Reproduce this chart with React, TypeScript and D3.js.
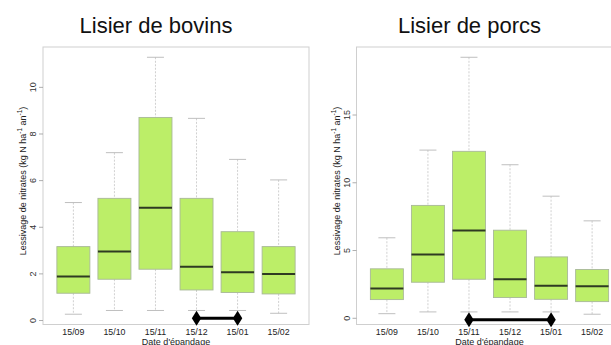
import React from "react";
import * as d3 from "d3";

const categories = ["15/09", "15/10", "15/11", "15/12", "15/01", "15/02"];

// bovins: [lowerWhisker, q1, median, q3, upperWhisker]
const bovinsLow = [0.27, 0.43, 0.43, 0.43, 0.43, 0.31];
const bovinsQ1 = [1.17, 1.77, 2.2, 1.31, 1.2, 1.14];
const bovinsMed = [1.89, 2.96, 4.84, 2.31, 2.07, 1.99];
const bovinsQ3 = [3.17, 5.24, 8.71, 5.24, 3.81, 3.17];
const bovinsHigh = [5.06, 7.2, 11.29, 8.67, 6.91, 6.03];

const porcsLow = [0.34, 0.47, 0.47, 0.47, 0.47, 0.3];
const porcsQ1 = [1.38, 2.66, 2.88, 1.53, 1.4, 1.23];
const porcsMed = [2.19, 4.7, 6.48, 2.88, 2.41, 2.36];
const porcsQ3 = [3.65, 8.33, 12.32, 6.5, 4.53, 3.6];
const porcsHigh = [5.94, 12.41, 19.26, 11.33, 9.01, 7.19];

const bovinsTicks = [0, 2, 4, 6, 8, 10];
const porcsTicks = [0, 5, 10, 15];

const bovinsPeriod = ["15/12", "15/01"];
const porcsPeriod = ["15/11", "15/01"];
const bovinsPeriodY = 0.1;
const porcsPeriodY = -0.1;

const titles = ["Lisier de bovins", "Lisier de porcs"];
const xTitle = "Date d'épandage";

const FONT = "Liberation Sans, Arial, sans-serif";

type PanelProps = {
  x0: number;
  title: string;
  titleX: number;
  low: number[];
  q1: number[];
  med: number[];
  q3: number[];
  high: number[];
  ticks: number[];
  period: string[];
  periodY: number;
};

function Panel(p: PanelProps) {
  const width = 266;
  const top = 47;
  const bottom = 324.5;
  const ymin = d3.min(p.low)!;
  const ymax = d3.max(p.high)!;
  const pad = (ymax - ymin) * 0.04;
  const x = d3.scaleLinear().domain([0.26, 6.74]).range([p.x0, p.x0 + width]);
  const y = d3.scaleLinear().domain([ymin - pad, ymax + pad]).range([bottom, top]);
  const bw = 33;
  const cw = 17;
  const pos = (c: string) => x(categories.indexOf(c) + 1);
  const d1 = pos(p.period[0]);
  const d2 = pos(p.period[1]);
  const dy = y(p.periodY);
  const diamond = (cx: number) =>
    `M${cx},${dy - 7.5} L${cx + 4.7},${dy} L${cx},${dy + 7.5} L${cx - 4.7},${dy} Z`;
  const yTitleX = p.x0 - 20;
  const yTitleY = 181;
  return (
    <g>
      <text x={p.titleX} y={33} textAnchor="middle" fontSize={22} fontFamily={FONT} fill="#111">
        {p.title}
      </text>
      <rect x={p.x0} y={top} width={width} height={bottom - top} fill="none" stroke="#cfcfcf" strokeWidth={1} />
      {p.ticks.map((t) => (
        <g key={t}>
          <line x1={p.x0 - 4} x2={p.x0} y1={y(t)} y2={y(t)} stroke="#999" strokeWidth={0.8} />
          <text
            transform={`translate(${p.x0 - 7},${y(t)}) rotate(-90)`}
            textAnchor="middle"
            fontSize={9}
            fontFamily={FONT}
            fill="#333"
          >
            {t}
          </text>
        </g>
      ))}
      {categories.map((c, i) => {
        const cx = x(i + 1);
        return (
          <g key={c}>
            <line x1={cx} x2={cx} y1={y(p.high[i])} y2={y(p.q3[i])} stroke="#c4c4c4" strokeWidth={0.8} strokeDasharray="2,1.5" />
            <line x1={cx} x2={cx} y1={y(p.q1[i])} y2={y(p.low[i])} stroke="#c4c4c4" strokeWidth={0.8} strokeDasharray="2,1.5" />
            <line x1={cx - cw / 2} x2={cx + cw / 2} y1={y(p.high[i])} y2={y(p.high[i])} stroke="#b8b8b8" strokeWidth={0.9} />
            <line x1={cx - cw / 2} x2={cx + cw / 2} y1={y(p.low[i])} y2={y(p.low[i])} stroke="#b8b8b8" strokeWidth={0.9} />
            <rect
              x={cx - bw / 2}
              y={y(p.q3[i])}
              width={bw}
              height={y(p.q1[i]) - y(p.q3[i])}
              fill="#BCEE68"
              stroke="#a8b898"
              strokeWidth={0.9}
            />
            <line x1={cx - bw / 2} x2={cx + bw / 2} y1={y(p.med[i])} y2={y(p.med[i])} stroke="#2e3a22" strokeWidth={2} />
            <text x={cx} y={335} textAnchor="middle" fontSize={8.8} fontFamily={FONT} fill="#222">
              {c}
            </text>
          </g>
        );
      })}
      <line x1={d1} x2={d2} y1={dy} y2={dy} stroke="#000" strokeWidth={3} />
      <path d={diamond(d1)} fill="#000" />
      <path d={diamond(d2)} fill="#000" />
      <text x={p.x0 + width / 2} y={344.5} textAnchor="middle" fontSize={9} fontFamily={FONT} fill="#222">
        {xTitle}
      </text>
      <text
        transform={`translate(${yTitleX + 3},${yTitleY}) rotate(-90)`}
        textAnchor="middle"
        fontSize={9}
        fontFamily={FONT}
        fill="#222"
      >
        Lessivage de nitrates (kg N  ha
        <tspan fontSize={6.5} dy={-4}>-1</tspan>
        <tspan dy={4}> an</tspan>
        <tspan fontSize={6.5} dy={-4}>-1</tspan>
        <tspan dy={4}>)</tspan>
      </text>
    </g>
  );
}

export default function App() {
  return (
    <svg
      width={611}
      height={345}
      style={{ position: "absolute", left: 0, top: 0, background: "#fff" }}
    >
      <rect x={0} y={0} width={611} height={345} fill="#fff" />
      <Panel
        x0={43}
        title={titles[0]}
        titleX={156}
        low={bovinsLow}
        q1={bovinsQ1}
        med={bovinsMed}
        q3={bovinsQ3}
        high={bovinsHigh}
        ticks={bovinsTicks}
        period={bovinsPeriod}
        periodY={bovinsPeriodY}
      />
      <Panel
        x0={356.5}
        title={titles[1]}
        titleX={469.5}
        low={porcsLow}
        q1={porcsQ1}
        med={porcsMed}
        q3={porcsQ3}
        high={porcsHigh}
        ticks={porcsTicks}
        period={porcsPeriod}
        periodY={porcsPeriodY}
      />
    </svg>
  );
}
